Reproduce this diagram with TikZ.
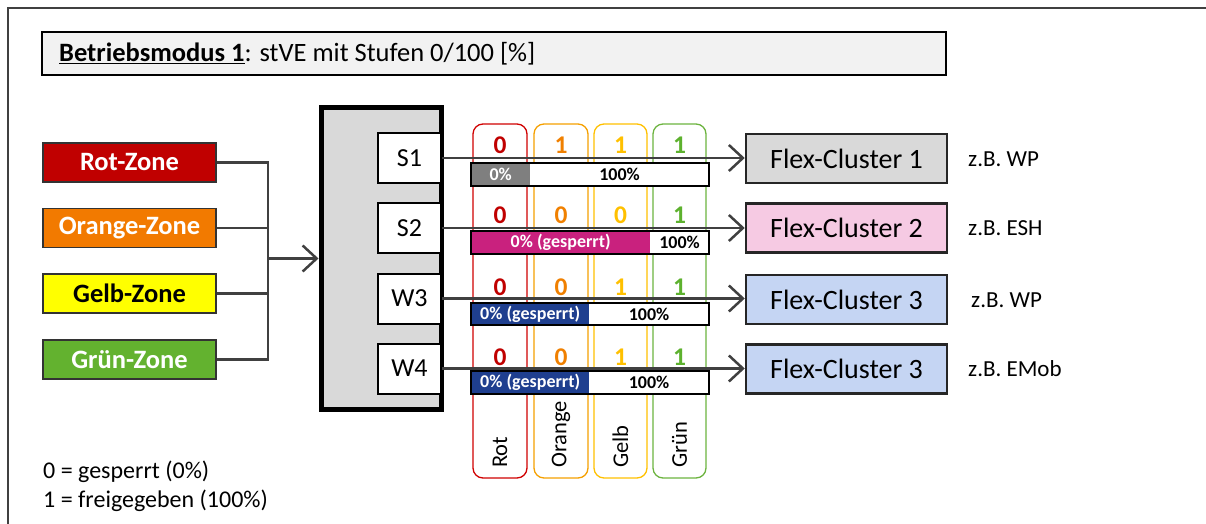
\documentclass[tikz,border=0pt]{standalone}
\usepackage{fontspec}
\setmainfont{Carlito}
\usetikzlibrary{arrows.meta}
\definecolor{framec}{HTML}{404040}
\definecolor{titlefill}{HTML}{F2F2F2}
\definecolor{zRot}{HTML}{C00000}
\definecolor{zOrange}{HTML}{F27A00}
\definecolor{zGelb}{HTML}{FFFF00}
\definecolor{zGruen}{HTML}{63B22F}
\definecolor{cRot}{HTML}{D00000}
\definecolor{cOrange}{HTML}{F5A000}
\definecolor{cGelb}{HTML}{FFC000}
\definecolor{cGruen}{HTML}{6CB33F}
\definecolor{dRot}{HTML}{C00000}
\definecolor{dOrange}{HTML}{F08000}
\definecolor{dGelb}{HTML}{FFC000}
\definecolor{dGruen}{HTML}{5DB12E}
\definecolor{barGray}{HTML}{7F7F7F}
\definecolor{barMag}{HTML}{C9217E}
\definecolor{barBlue}{HTML}{1F3F8F}
\definecolor{fcGray}{HTML}{D9D9D9}
\definecolor{fcPink}{HTML}{F6CAE3}
\definecolor{fcBlue}{HTML}{C5D5F3}
\definecolor{boxGray}{HTML}{D9D9D9}
\definecolor{arrowc}{HTML}{404040}
\begin{document}
\begin{tikzpicture}[x=1pt,y=-1pt,
  zone/.style={draw=black!80, line width=1.2, minimum width=173, minimum height=39, inner sep=0, font=\fontsize{26.5}{30}\selectfont\bfseries, text=white},
  sbox/.style={draw=black, line width=2, fill=white, minimum width=63, minimum height=50, inner sep=0, font=\fontsize{26}{30}\selectfont},
  fcbox/.style={draw=black!85, line width=2.5, minimum width=201, minimum height=49, inner sep=0, font=\fontsize{28}{32}\selectfont},
  colbox/.style={line width=1.3, rounded corners=10, minimum width=54, minimum height=354, inner sep=0},
  digit/.style={font=\fontsize{25.5}{29}\selectfont\bfseries, inner sep=0},
  barpart/.style={minimum height=23, inner sep=0, anchor=west, font=\fontsize{18}{21}\selectfont\bfseries},
  collabel/.style={rotate=90, anchor=west, inner sep=0, font=\fontsize{22.5}{26}\selectfont},
  note/.style={anchor=west, inner sep=0, font=\fontsize{23}{27}\selectfont},
  conn/.style={draw=arrowc, line width=2.5},
  arr/.style={conn, -{Straight Barb[length=14pt,width=26pt]}}
]
\useasboundingbox (0,0) rectangle (1206,524);
\draw[framec, line width=2] (8,524) -- (8,8) -- (1206,8);

% title
\node[draw=black, line width=2, fill=titlefill, minimum width=904, minimum height=43, inner sep=0] (title) at (494,53.5) {};
\node[anchor=west, inner sep=0, font=\fontsize{26.5}{30}\selectfont] (titletext) at (59,54) {\underline{\textbf{Betriebsmodus 1}}: stVE mit Stufen 0/100 [\%]};

% zones
\node[zone, fill=zRot] (rot) at (129.5,162.5) {Rot-Zone};
\node[zone, fill=zOrange] (orange) at (129.5,228) {Orange-Zone};
\node[zone, fill=zGelb, text=black] (gelb) at (129.5,293.5) {Gelb-Zone};
\node[zone, fill=zGruen] (gruen) at (129.5,359.5) {Grün-Zone};

% big box
\node[draw=black, line width=5, fill=boxGray, minimum width=120, minimum height=301, inner sep=0] (big) at (381,258.5) {};

% junction
\coordinate (jtop) at (268,162.5);
\coordinate (jbot) at (268,359.5);
\coordinate (jmid) at (268,258.5);
\draw[conn] (rot.east) -- (jtop) -- (jbot) -- (gruen.east);
\draw[conn] (orange.east) -- (orange.east -| jtop);
\draw[conn] (gelb.east) -- (gelb.east -| jtop);
\draw[arr] (jmid) -- (big.west);

% S boxes
\node[sbox] (s1) at (409.5,158) {S1};
\node[sbox] (s2) at (409.5,228) {S2};
\node[sbox] (w3) at (409.5,298.5) {W3};
\node[sbox] (w4) at (409.5,368.5) {W4};

% columns
\node[colbox, draw=cRot] (colR) at (500,301) {};
\node[colbox, draw=cOrange] (colO) at (561,301) {};
\node[colbox, draw=cGelb, minimum width=53] (colG) at (620.5,301) {};
\node[colbox, draw=cGruen, minimum width=53] (colN) at (679.5,301) {};

\node[collabel] (lR) at (500,468) {Rot};
\node[collabel] (lO) at (561,468) {Orange};
\node[collabel] (lG) at (620.5,468) {Gelb};
\node[collabel] (lN) at (679.5,468) {Grün};

% digits
\foreach \r/\y/\a/\b/\c/\d in {1/145/0/1/1/1, 2/215/0/0/0/1, 3/287/0/0/1/1, 4/357/0/0/1/1}{
  \node[digit, text=dRot] (d\r R) at (500,\y) {\a};
  \node[digit, text=dOrange] (d\r O) at (561,\y) {\b};
  \node[digit, text=dGelb] (d\r G) at (620.5,\y) {\c};
  \node[digit, text=dGruen] (d\r N) at (679.5,\y) {\d};
}

% flex clusters
\node[fcbox, fill=fcGray] (fc1) at (846.5,158.5) {Flex-Cluster 1};
\node[fcbox, fill=fcPink] (fc2) at (846.5,228) {Flex-Cluster 2};
\node[fcbox, fill=fcBlue] (fc3) at (846.5,299.5) {Flex-Cluster 3};
\node[fcbox, fill=fcBlue] (fc4) at (846.5,369) {Flex-Cluster 3};

\node[note] (n1) at (968,159) {z.B. WP};
\node[note] (n2) at (968,228) {z.B. ESH};
\node[note] (n3) at (971,300) {z.B. WP};
\node[note] (n4) at (968,369) {z.B. EMob};

% arrows
\draw[arr] (s1.east) -- (s1.east -| fc1.west);
\draw[arr] (s2.east) -- (s2.east -| fc2.west);
\draw[arr] (w3.east) -- (w3.east -| fc3.west);
\draw[arr] (w4.east) -- (w4.east -| fc4.west);

% bars
\node[barpart, fill=barGray, text=white, minimum width=59] (b1l) at (471,174.5) {0\%};
\node[barpart, fill=white, minimum width=178] (b1r) at (b1l.east) {100\%};
\draw[line width=2] (b1l.north west) rectangle (b1r.south east);

\node[barpart, fill=barMag, text=white, minimum width=179] (b2l) at (471,242.5) {0\% (gesperrt)};
\node[barpart, fill=white, minimum width=58] (b2r) at (b2l.east) {100\%};
\draw[line width=2] (b2l.north west) rectangle (b2r.south east);

\node[barpart, fill=barBlue, text=white, minimum width=118, minimum height=22] (b3l) at (471,314) {0\% (gesperrt)};
\node[barpart, fill=white, minimum width=119, minimum height=22] (b3r) at (b3l.east) {100\%};
\draw[line width=2] (b3l.north west) rectangle (b3r.south east);

\node[barpart, fill=barBlue, text=white, minimum width=118, minimum height=22] (b4l) at (471,382.5) {0\% (gesperrt)};
\node[barpart, fill=white, minimum width=119, minimum height=22] (b4r) at (b4l.east) {100\%};
\draw[line width=2] (b4l.north west) rectangle (b4r.south east);

% legend
\node[note, font=\fontsize{24}{28}\selectfont] (leg0) at (43,472) {0 = gesperrt (0\%)};
\node[note, font=\fontsize{24}{28}\selectfont] (leg1) at (43,501) {1 = freigegeben (100\%)};
\end{tikzpicture}
\end{document}
